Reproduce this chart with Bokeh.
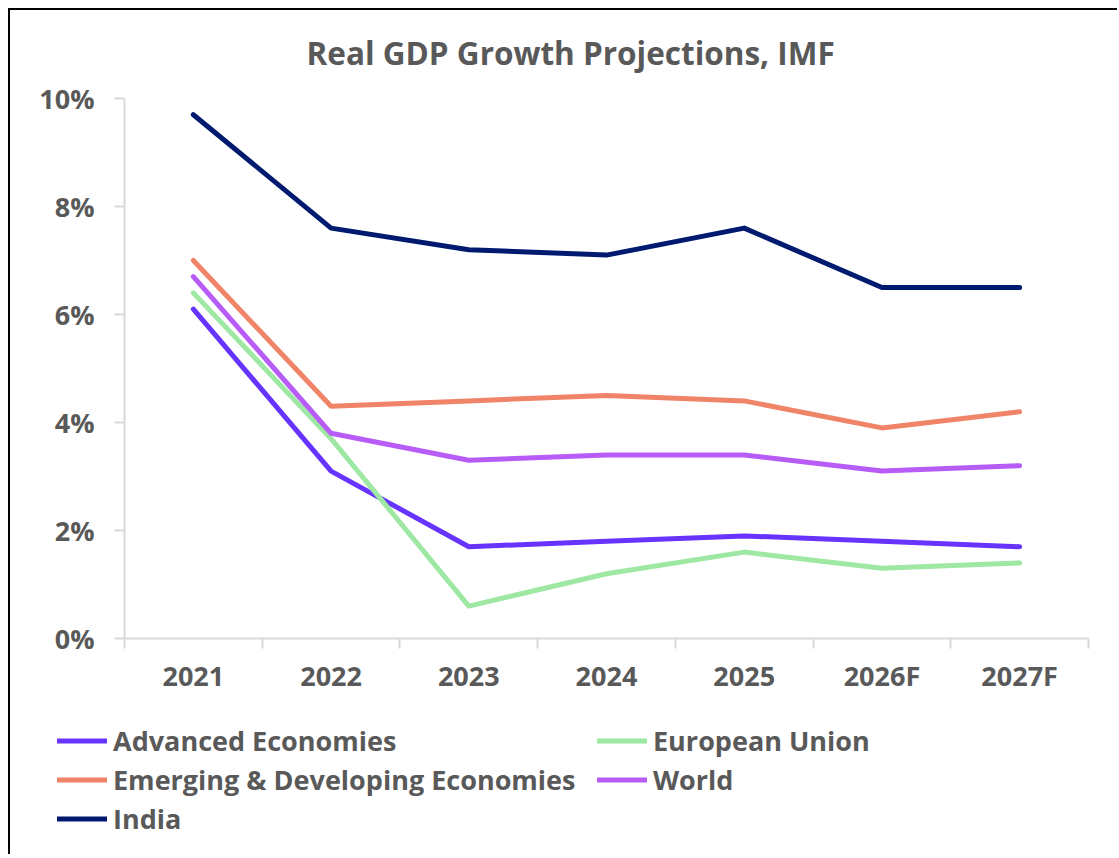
from bokeh.plotting import figure
from bokeh.layouts import column
from bokeh.models import (FixedTicker, PrintfTickFormatter, CustomJSTickFormatter,
                          Legend, LegendItem, Range1d, Title)
from bokeh.embed import file_html
from bokeh.resources import INLINE

# ---- data ----
categories = ["2021", "2022", "2023", "2024", "2025", "2026F", "2027F"]
advanced = [6.1, 3.1, 1.7, 1.8, 1.9, 1.8, 1.7]
european_union = [6.4, 3.7, 0.6, 1.2, 1.6, 1.3, 1.4]
emerging = [7.0, 4.3, 4.4, 4.5, 4.4, 3.9, 4.2]
world = [6.7, 3.8, 3.3, 3.4, 3.4, 3.1, 3.2]
india = [9.7, 7.6, 7.2, 7.1, 7.6, 6.5, 6.5]
y_ticks = [0, 2, 4, 6, 8, 10]
title_text = "Real GDP Growth Projections, IMF"

FONT = "Open Sans"
TXT = "#595959"
AXC = "#D9D9D9"

xs = [i + 0.5 for i in range(len(categories))]

series = [
    ("Advanced Economies", advanced, "#6633FF"),
    ("European Union", european_union, "#9EE8A4"),
    ("Emerging & Developing Economies", emerging, "#F08468"),
    ("World", world, "#B85CF8"),
    ("India", india, "#001A70"),
]


def blank_strip(h, top=0):
    f = figure(width=1109, height=h, output_backend="svg", toolbar_location=None,
               x_range=Range1d(-20, -10), y_range=Range1d(-20, -10),
               x_axis_location=None, y_axis_location=None,
               min_border=0, min_border_left=0, min_border_right=0,
               min_border_top=top, min_border_bottom=0)
    f.xgrid.visible = False
    f.ygrid.visible = False
    f.outline_line_color = None
    f.frame_align = False
    return f


# ---------------- title strip ----------------
hp = blank_strip(68, top=63)
hp.styles = {"border-left": "2px solid black", "border-top": "2px solid black"}
hp.title = Title(text=title_text, align="left", offset=296, vertical_align="bottom",
                 standoff=0, text_font=FONT, text_font_style="bold",
                 text_font_size="31.5px", text_color=TXT)

# ---------------- main chart ----------------
p = figure(width=1109, height=632, output_backend="svg", toolbar_location=None,
           x_range=Range1d(0, len(categories)), y_range=Range1d(0, 10),
           min_border_left=114, min_border_right=31, min_border_top=22,
           min_border_bottom=70)
p.styles = {"border-left": "2px solid black"}
p.frame_align = False

p.xgrid.visible = False
p.ygrid.visible = False
p.outline_line_color = None

xa = p.xaxis[0]
xa.ticker = FixedTicker(ticks=xs, minor_ticks=list(range(len(categories) + 1)))
xa.formatter = CustomJSTickFormatter(args=dict(labels=categories),
                                     code="return labels[Math.floor(tick)];")
xa.major_tick_out = 0
xa.major_tick_in = 0
xa.major_tick_line_color = None
xa.minor_tick_out = 10
xa.minor_tick_in = 0
xa.minor_tick_line_color = AXC
xa.minor_tick_line_width = 2
xa.axis_line_color = AXC
xa.axis_line_width = 2
xa.major_label_standoff = 8
xa.major_label_text_font = FONT
xa.major_label_text_font_style = "bold"
xa.major_label_text_font_size = "27px"
xa.major_label_text_color = TXT

ya = p.yaxis[0]
ya.ticker = FixedTicker(ticks=y_ticks)
ya.formatter = PrintfTickFormatter(format="%d%%")
ya.major_tick_out = 10
ya.major_tick_in = 0
ya.minor_tick_out = 0
ya.minor_tick_in = 0
ya.major_tick_line_color = AXC
ya.major_tick_line_width = 2
ya.axis_line_color = AXC
ya.axis_line_width = 2
ya.major_label_standoff = 20
ya.major_label_text_font = FONT
ya.major_label_text_font_style = "bold"
ya.major_label_text_font_size = "27px"
ya.major_label_text_color = TXT

for name, vals, col in series:
    p.line(xs, vals, line_color=col, line_width=5, line_cap="round", line_join="round")

# ---------------- legend strip ----------------
lp = blank_strip(146)
lp.styles = {"border-left": "2px solid black"}

items = []
for name, vals, col in series:
    r = lp.line(xs, vals, line_color=col, line_width=5, line_cap="round", line_join="round")
    items.append(LegendItem(label=name, renderers=[r]))

legend = Legend(items=items, location=(47, 16), orientation="horizontal", ncols=2,
                label_text_font=FONT, label_text_font_style="bold",
                label_text_font_size="27px", label_text_color=TXT,
                glyph_width=50, glyph_height=39, label_height=39, label_width=484,
                spacing=0, padding=0, margin=0, label_standoff=6,
                border_line_color=None, background_fill_alpha=0)
lp.add_layout(legend, "center")

layout = column(hp, p, lp, spacing=0, margin=(8, 0, 0, 8))
open("out.html", "w").write(file_html(layout, INLINE))
